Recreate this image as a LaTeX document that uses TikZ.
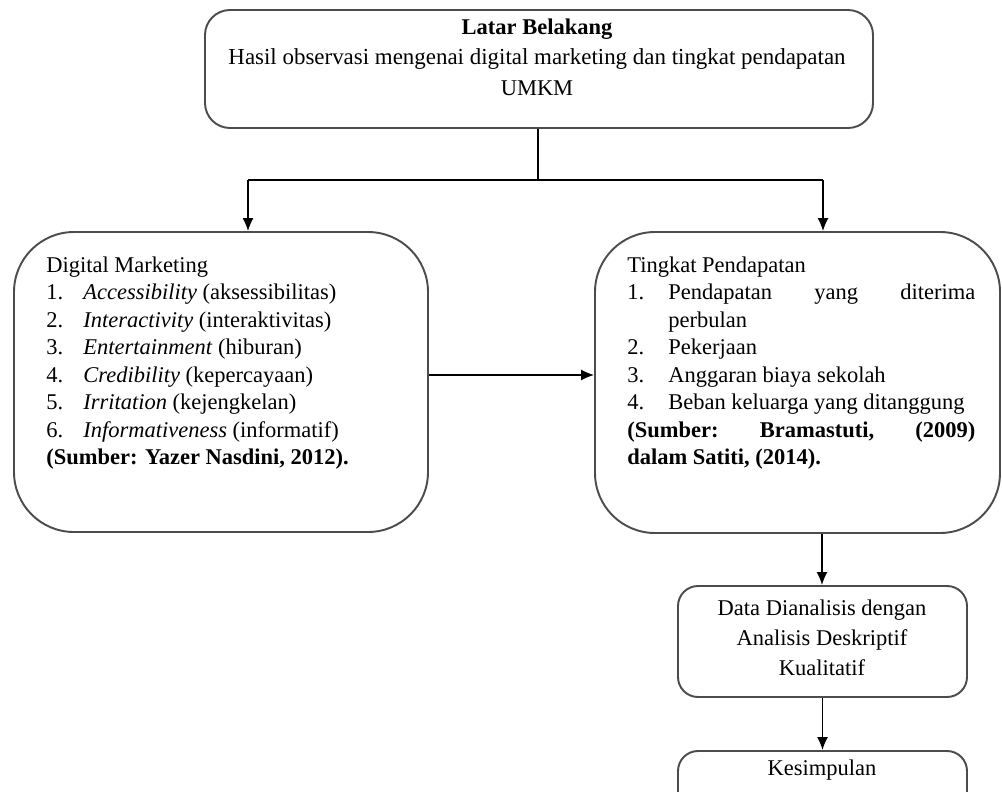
\documentclass[tikz,border=0pt]{standalone}
\usepackage{fontspec}
\setmainfont{Liberation Serif}
\usetikzlibrary{positioning,arrows.meta,calc}

\tikzset{
  frame/.style={draw=black!70, line width=1.1pt},
  txt/.style={anchor=base west, inner sep=0pt, font=\fontsize{12.8}{15}\selectfont},
  ctxt/.style={anchor=base, inner sep=0pt, font=\fontsize{12.8}{15}\selectfont},
  arr/.style={-{Latex[length=2.6mm,width=2.2mm]}, line width=0.8pt},
}

\begin{document}
\begin{tikzpicture}
  \clip (0,0) rectangle (20.04,-15.82);

  % boxes
  \node[frame, rounded corners=0.5cm, minimum width=13.36cm, minimum height=2.36cm] (latar) at (10.78,-1.38) {};
  \node[frame, rounded corners=1.2cm, minimum width=8.28cm, minimum height=6.0cm] (dm) at (4.42,-7.64) {};
  \node[frame, rounded corners=1.2cm, minimum width=8.1cm, minimum height=6.02cm] (tp) at (15.95,-7.65) {};
  \node[frame, rounded corners=0.4cm, minimum width=5.78cm, minimum height=2.22cm] (data) at (16.45,-12.83) {};
  \node[frame, rounded corners=0.4cm, minimum width=5.78cm, minimum height=1.6cm] (kes) at (16.45,-15.82) {};

  % latar belakang
  \node[ctxt] (lb1) at (10.74,-0.70) {\textbf{Latar Belakang}};
  \node[ctxt] (lb2) at (10.74,-1.30) {\fontsize{13.05}{15}\selectfont Hasil observasi mengenai digital marketing dan tingkat pendapatan};
  \node[ctxt] (lb3) at (10.74,-1.90) {UMKM};

  % digital marketing
  \node[txt] (dm0) at (0.92,-5.44) {Digital Marketing};
  \foreach \n/\en/\id [count=\i] in {
      1/Accessibility/aksessibilitas,
      2/Interactivity/interaktivitas,
      3/Entertainment/hiburan,
      4/Credibility/kepercayaan,
      5/Irritation/kejengkelan,
      6/Informativeness/informatif} {
    \node[txt] (dmn\i) at (0.92,-5.44-0.55*\i) {\n.};
    \node[txt] (dmi\i) at (1.66,-5.44-0.55*\i) {\textit{\en} (\id)};
  }
  \node[txt] (dms) at (0.92,-9.29) {\textbf{(Sumber: Yazer Nasdini, 2012).}};

  % tingkat pendapatan
  \node[txt] (tp0) at (12.54,-5.44) {Tingkat Pendapatan};
  \node[txt] (tpn1) at (12.54,-5.99) {1.};
  \node[txt] (tpi1) at (13.36,-5.99) {\makebox[6.14cm][s]{Pendapatan\hfill yang\hfill diterima}};
  \node[txt] (tpi1b) at (13.36,-6.54) {perbulan};
  \node[txt] (tpn2) at (12.54,-7.09) {2.};
  \node[txt] (tpi2) at (13.36,-7.09) {Pekerjaan};
  \node[txt] (tpn3) at (12.54,-7.64) {3.};
  \node[txt] (tpi3) at (13.36,-7.64) {Anggaran biaya sekolah};
  \node[txt] (tpn4) at (12.54,-8.19) {4.};
  \node[txt] (tpi4) at (13.36,-8.19) {Beban keluarga yang ditanggung};
  \node[txt] (tps1) at (12.54,-8.74) {\makebox[6.96cm][s]{\textbf{(Sumber:\hfill Bramastuti,\hfill (2009)}}};
  \node[txt] (tps2) at (12.54,-9.29) {\textbf{dalam Satiti, (2014).}};

  % analisis
  \node[ctxt] (da1) at (16.44,-12.30) {Data Dianalisis dengan};
  \node[ctxt] (da2) at (16.44,-12.90) {Analisis Deskriptif};
  \node[ctxt] (da3) at (16.44,-13.50) {Kualitatif};
  \node[ctxt] (ks) at (16.44,-15.50) {Kesimpulan};

  % connectors
  \coordinate (fork) at (10.76,-3.6);
  \coordinate (forkL) at (4.96,-3.6);
  \coordinate (forkR) at (16.46,-3.6);
  \coordinate (mid) at (0,-7.5);
  \coordinate (col) at (16.44,0);
  \draw[line width=0.8pt] (fork |- latar.south) -- (fork);
  \draw[line width=0.8pt] (forkL) -- (forkR);
  \draw[arr] (forkL) -- (forkL |- dm.north);
  \draw[arr] (forkR) -- (forkR |- tp.north);
  \draw[arr] (mid -| dm.east) -- (mid -| tp.west);
  \draw[arr] (col |- tp.south) -- (col |- data.north);
  \draw[arr] (data.south) -- (kes.north);
\end{tikzpicture}
\end{document}
